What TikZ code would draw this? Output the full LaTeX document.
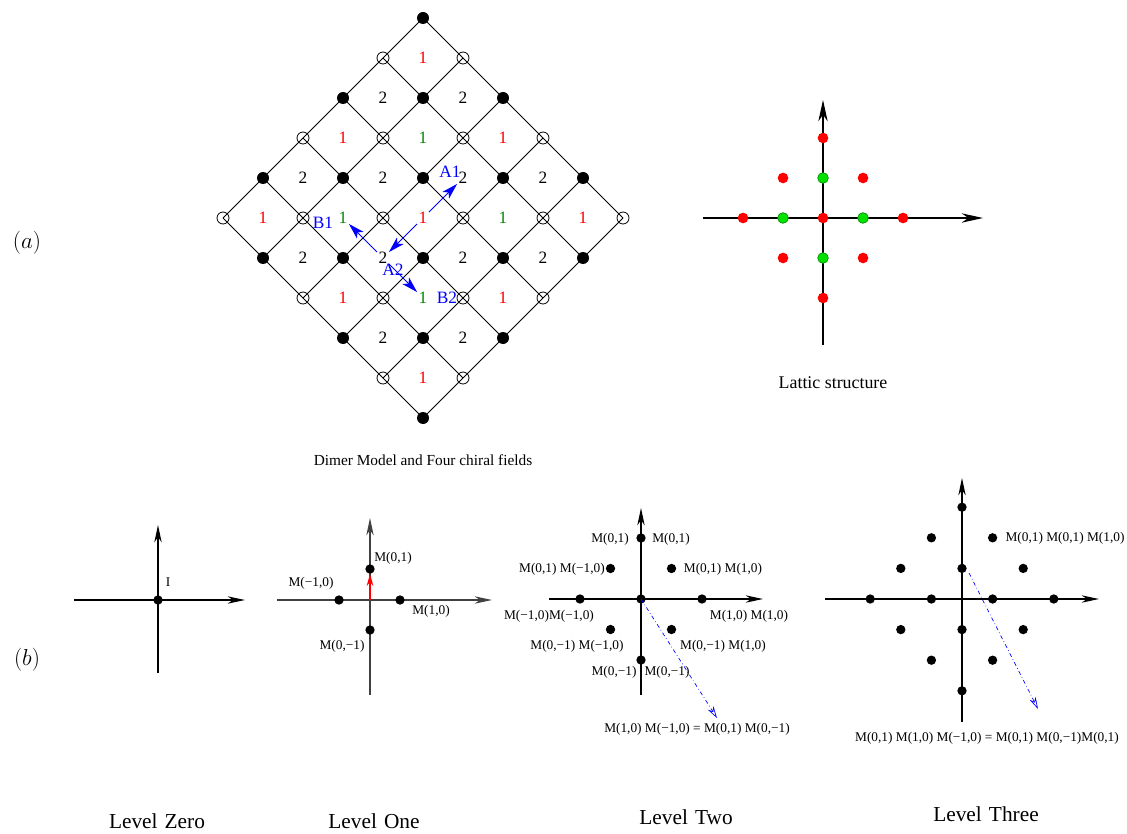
\documentclass[tikz,border=0pt]{standalone}
\usepackage{fontspec}
\newfontfamily\figfont{Liberation Serif}
\usetikzlibrary{arrows.meta}
\definecolor{fgreen}{RGB}{0,140,0}
\definecolor{lgreen}{RGB}{0,225,0}
\definecolor{fblue}{RGB}{0,0,255}

\begin{document}
\begin{tikzpicture}[x=0.75pt,y=-0.75pt,
  full/.style={circle,fill=black,inner sep=0pt,minimum size=9pt},
  empty/.style={circle,draw=black,line width=0.6pt,inner sep=0pt,minimum size=9pt},
  face/.style={font=\figfont\fontsize{13}{15}\selectfont,inner sep=1pt},
  field/.style={fblue,line width=0.6pt,-{Stealth[length=12pt,width=7pt,inset=3pt]}},
  fieldname/.style={font=\figfont\fontsize{13}{15}\selectfont,text=fblue,inner sep=0pt},
  reddot/.style={circle,fill=red,inner sep=0pt,minimum size=8pt},
  greendot/.style={circle,fill=lgreen,draw=fgreen,line width=0.5pt,inner sep=0pt,minimum size=8pt},
  dot/.style={circle,fill=black,inner sep=0pt,minimum size=7pt},
  axis/.style={line width=1pt,-{Stealth[length=13pt,width=5.5pt,inset=4pt]}},
  bigaxis/.style={line width=0.9pt,-{Stealth[length=16pt,width=7pt,inset=5pt]}},
  relation/.style={fblue,line width=0.5pt,dash dot,-{Stealth[open,length=9pt,width=5pt]}},
  mlabel/.style={font=\figfont\fontsize{10}{12}\selectfont,inner sep=0pt},
  title/.style={font=\figfont\fontsize{16}{18}\selectfont,inner sep=0pt}]
\useasboundingbox (0,0) rectangle (1127,834);

% dimer model
\foreach \u in {0,...,5}{
  \foreach \v in {0,...,5}{
    \coordinate (p\u\v) at ({423+40*(\u-\v)},{18+40*(\u+\v)});
  }
}
\foreach \i in {0,...,5}{
  \draw[line width=0.7pt] (p\i0) -- (p\i5)
                          (p0\i) -- (p5\i);
}
\foreach \u in {0,...,5}{
  \foreach \v in {0,...,5}{
    \pgfmathtruncatemacro{\odd}{mod(\u+\v,2)}
    \ifnum\odd=0
      \node[full] (n\u\v) at (p\u\v) {};
    \else
      \node[empty] (n\u\v) at (p\u\v) {};
    \fi
  }
}
\foreach \u in {0,...,4}{
  \foreach \v in {0,...,4}{
    \pgfmathtruncatemacro{\odd}{mod(\u+\v,2)}
    \pgfmathtruncatemacro{\odu}{mod(\u,2)}
    \ifnum\odd=1
      \node[face] (f\u\v) at ({423+40*(\u-\v)},{58+40*(\u+\v)}) {2};
    \else\ifnum\odu=1
      \node[face,text=fgreen] (f\u\v) at ({423+40*(\u-\v)},{58+40*(\u+\v)}) {1};
    \else
      \node[face,text=red] (f\u\v) at ({423+40*(\u-\v)},{58+40*(\u+\v)}) {1};
    \fi\fi
  }
}
\draw[field] (f22) -- (f21);
\draw[field] (f22) -- (f23);
\draw[field] (f23) -- (f13);
\draw[field] (f23) -- (f33);
\node[fieldname] (a1) at (450,172) {A1};
\node[fieldname] (a2) at (393,270) {A2};
\node[fieldname] (b1) at (323,223) {B1};
\node[fieldname] (b2) at (447,298) {B2};
\node[font=\figfont\fontsize{11.5}{14}\selectfont] (dimer) at (423,460) {Dimer Model and Four chiral fields};

% lattice
\coordinate (lx0) at (703,218);
\coordinate (lx1) at (983,218);
\coordinate (ly0) at (823,345);
\coordinate (ly1) at (823,100);
\draw[bigaxis] (lx0) -- (lx1);
\draw[bigaxis] (ly0) -- (ly1);
\foreach \a/\b [count=\k] in {0/0,0/2,-1/1,1/1,-2/0,2/0,-1/-1,1/-1,0/-2}
  \node[reddot] (r\k) at ({823+40*\a},{218-40*\b}) {};
\foreach \a/\b [count=\k] in {0/1,-1/0,1/0,0/-1}
  \node[greendot] (g\k) at ({823+40*\a},{218-40*\b}) {};
\node[font=\figfont\fontsize{13.4}{16}\selectfont] (lattic) at (833,383) {Lattic structure};

\node[font=\fontsize{19}{22}\selectfont] (parta) at (27,243) {$(a)$};
\node[font=\fontsize{19}{22}\selectfont] (partb) at (27,660) {$(b)$};

% level zero
\draw[axis] (74,600) -- (245,600);
\draw[axis] (158,673) -- (158,525);
\node[dot] (z0) at (158,600) {};
\node[mlabel] (zi) at (168,582) {I};
\node[title] (lev0) at (157,821) {Level\,\,Zero};

% level one
\draw[axis,black!75] (277,600) -- (492,600);
\draw[axis,black!75] (370,695) -- (370,518);
\node[dot] (o1) at (370,569) {};
\node[dot] (o2) at (339,600) {};
\node[dot] (o3) at (400,600) {};
\node[dot] (o4) at (370,630) {};
\coordinate (o0) at (370,600);
\draw[red,line width=1pt,-{Stealth[length=9pt,width=5pt]}] (o0) -- (o1.south);
\node[mlabel] at (393,558) {M(0,1)};
\node[mlabel] at (311,583) {M(−1,0)};
\node[mlabel] at (431,611) {M(1,0)};
\node[mlabel] at (342,646) {M(0,−1)};
\node[title] (lev1) at (374,821) {Level\,\,One};

% level two
\draw[axis] (549,599) -- (763,599);
\draw[axis] (641,695) -- (641,508);
\foreach \a/\b [count=\k] in {0/0,0/2,-1/1,1/1,-2/0,2/0,-1/-1,1/-1,0/-2}
  \node[dot] (w\k) at ({641+30.5*\a},{599-30.5*\b}) {};
\coordinate (w10) at (717,718);
\draw[relation] (w1.center) -- (w10);
\node[mlabel] at (610,539) {M(0,1)};
\node[mlabel] at (671,539) {M(0,1)};
\node[mlabel] at (562,569) {M(0,1) M(−1,0)};
\node[mlabel] at (723,569) {M(0,1) M(1,0)};
\node[mlabel] at (549,616) {M(−1,0)M(−1,0)};
\node[mlabel] at (749,616) {M(1,0) M(1,0)};
\node[mlabel] at (577,646) {M(0,−1) M(−1,0)};
\node[mlabel] at (723,646) {M(0,−1) M(1,0)};
\node[mlabel] at (614,672) {M(0,−1)};
\node[mlabel] at (667,672) {M(0,−1)};
\node[mlabel] at (697,729) {M(1,0) M(−1,0) = M(0,1) M(0,−1)};
\node[title] (lev2) at (686,817) {Level\,\,Two};

% level three
\draw[axis] (825,599) -- (1099,599);
\draw[axis] (962,722) -- (962,478);
\foreach \a/\b [count=\k] in {0/1,0/3,-1/2,1/2,-2/1,2/1,-3/0,-1/0,1/0,3/0,-2/-1,0/-1,2/-1,-1/-2,1/-2,0/-3}
  \node[dot] (h\k) at ({962+30.6*\a},{599-30.6*\b}) {};
\coordinate (h0) at (969,573);
\coordinate (h17) at (1038,709);
\draw[relation] (h0) -- (h17);
\node[mlabel] at (1065,538) {M(0,1) M(0,1) M(1,0)};
\node[mlabel] at (987,738) {M(0,1) M(1,0) M(−1,0) = M(0,1) M(0,−1)M(0,1)};
\node[title] (lev3) at (986,814) {Level\,\,Three};
\end{tikzpicture}
\end{document}
